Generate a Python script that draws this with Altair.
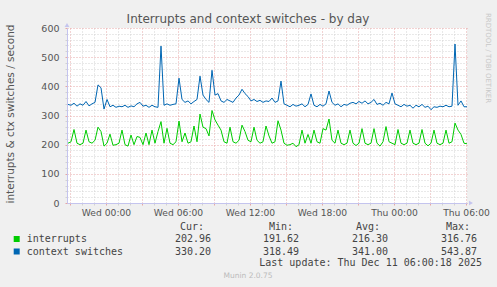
import altair as alt
import pandas as pd

# ---- data (15-minute samples) ----
interrupts = [
    205, 210, 252, 205, 200, 205, 250, 210, 205, 215,
    260, 245, 195, 205, 236, 198, 200, 205, 250, 200,
    195, 233, 200, 228, 225, 200, 240, 200, 250, 205,
    245, 279, 205, 256, 205, 200, 210, 281, 210, 240,
    205, 210, 264, 210, 305, 260, 255, 230, 317, 285,
    267, 250, 210, 205, 260, 210, 205, 215, 267, 245,
    215, 210, 260, 215, 205, 210, 264, 230, 205, 210,
    282, 250, 205, 198, 200, 205, 193, 200, 250, 205,
    235, 205, 250, 210, 205, 255, 250, 288, 215, 205,
    250, 205, 200, 205, 250, 205, 197, 205, 255, 205,
    200, 205, 255, 205, 195, 210, 262, 210, 205, 200,
    252, 205, 200, 205, 250, 205, 200, 205, 252, 205,
    196, 205, 250, 205, 200, 205, 250, 205, 210, 274,
    250, 235, 205, 203,
]
context_switches = [
    338, 335, 342, 332, 340, 335, 348, 333, 340, 345,
    405, 395, 322, 355, 330, 335, 328, 332, 330, 335,
    328, 333, 330, 340, 345, 332, 335, 328, 335, 330,
    328, 538, 335, 340, 335, 338, 340, 428, 355, 345,
    350, 340, 348, 355, 435, 370, 355, 345, 455, 370,
    375, 350, 345, 355, 350, 345, 360, 370, 390, 375,
    365, 350, 355, 348, 352, 345, 350, 348, 360, 345,
    350, 418, 340, 335, 330, 338, 332, 335, 340, 330,
    338, 374, 335, 330, 338, 332, 340, 384, 345, 335,
    340, 330, 338, 335, 342, 345, 340, 348, 342, 350,
    340, 345, 355, 338, 342, 335, 345, 340, 377, 340,
    335, 330, 338, 332, 335, 325, 335, 330, 338, 328,
    332, 320, 330, 328, 332, 330, 335, 330, 332, 545,
    335, 350, 330, 330,
]
n = len(interrupts)
# hours relative to Wed 00:00, one sample every 15 minutes
hours = [round(-3.1667 + 0.25 * i, 4) for i in range(n)]

series = ["interrupts", "context switches"]
cur_vals = ["202.96", "330.20"]
min_vals = ["191.62", "318.49"]
avg_vals = ["216.30", "341.00"]
max_vals = ["316.76", "543.87"]
x_ticks = list(range(-3, 31))
y_ticks = list(range(0, 601, 20))

df = pd.DataFrame({
    "h": hours + hours,
    "v": interrupts + context_switches,
    "s": [series[0]] * n + [series[1]] * n,
})

GREEN = "#00CC00"
BLUE = "#0066B3"
AXIS = "#c4c4ee"
MAJOR = "#e6a6a6"
MINOR = "#d2d2d2"
TXT = "#555555"

xlabel = ("datum.value % 6 === 0 && datum.value >= 0 ? "
          "((datum.value < 24 ? 'Wed ' : 'Thu ') + ((datum.value % 24) < 10 ? '0' : '') "
          "+ (datum.value % 24) + ':00') : ''")

xaxis = alt.Axis(
    values=x_ticks, title=None, labelExpr=xlabel, labelOverlap=False, labelFlush=False,
    grid=True,
    gridColor={"condition": {"test": "datum.value % 3 === 0", "value": MAJOR}, "value": MINOR},
    gridDash=[1, 2], gridWidth=1,
    tickColor={"condition": {"test": "datum.value % 3 === 0", "value": MAJOR}, "value": MINOR},
    tickSize=2, domainColor=AXIS, domainWidth=1,
    labelFont="DejaVu Sans", labelFontSize=9.2, labelColor=TXT, labelPadding=3,
)
yaxis = alt.Axis(
    values=y_ticks, title=None,
    labelExpr="datum.value % 100 === 0 ? datum.label : ''", labelOverlap=False,
    grid=True,
    gridColor={"condition": {"test": "datum.value % 100 === 0", "value": MAJOR}, "value": MINOR},
    gridDash=[1, 2], gridWidth=1,
    tickColor={"condition": {"test": "datum.value % 100 === 0", "value": MAJOR}, "value": MINOR},
    tickSize=2, domainColor=AXIS, domainWidth=1,
    labelFont="DejaVu Sans", labelFontSize=9.5, labelColor=TXT, labelPadding=6,
)

lines = alt.Chart(df).mark_line(strokeWidth=1).encode(
    x=alt.X("h:Q", scale=alt.Scale(domain=[-3.25, 30.0833], nice=False, zero=False), axis=xaxis),
    y=alt.Y("v:Q", scale=alt.Scale(domain=[0, 600], nice=False), axis=yaxis),
    color=alt.Color("s:N", scale=alt.Scale(domain=series, range=[GREEN, BLUE]), legend=None),
    detail="s:N",
)

one = pd.DataFrame({"a": [0]})


def txt(text, x, y, align="left", size=10, font="DejaVu Sans Mono", color="#444444", angle=0):
    kw = dict(text=text, align=align, baseline="middle", fontSize=size, font=font, color=color)
    if angle:
        kw["angle"] = angle
    return alt.Chart(one).mark_text(**kw).encode(x=alt.value(x), y=alt.value(y))


layers = [lines]
# axis arrows
layers.append(alt.Chart(one).mark_point(shape="triangle-up", filled=True, size=22, color=AXIS, opacity=1)
              .encode(x=alt.value(0), y=alt.value(-3)))
layers.append(alt.Chart(one).mark_point(shape="triangle-right", filled=True, size=22, color=AXIS, opacity=1)
              .encode(x=alt.value(404), y=alt.value(175)))

layers.append(txt("Interrupts and context switches - by day", 181, -9, align="center",
                  size=12, font="DejaVu Sans", color=TXT))
layers.append(txt("interrupts & ctx switches / second", -56, 86, align="center",
                  size=10.5, font="DejaVu Sans", color=TXT, angle=270))
layers.append(txt("RRDTOOL / TOBI OETIKER", 421, 30, align="center",
                  size=7, font="DejaVu Sans", color="#c8c8c8", angle=90))

# legend header
for label, xr in zip(["Cur:", "Min:", "Avg:", "Max:"], [137, 226, 313, 403]):
    layers.append(txt(label, xr, 199, align="right"))

row_y = [211, 223.5]
colors = [GREEN, BLUE]
for k in range(2):
    layers.append(alt.Chart(one).mark_square(size=36, color=colors[k], opacity=1)
                  .encode(x=alt.value(-50.3), y=alt.value(row_y[k])))
    layers.append(txt(series[k], -40.3, row_y[k]))
    for val, xr in zip([cur_vals[k], min_vals[k], avg_vals[k], max_vals[k]], [144, 232, 321, 410]):
        layers.append(txt(val, xr, row_y[k], align="right"))

layers.append(txt("Last update: Thu Dec 11 06:00:18 2025", 415, 235, align="right"))
layers.append(txt("Munin 2.0.75", 181, 248, align="center", size=7.5, font="DejaVu Sans", color="#bbbbbb"))

chart = alt.layer(*layers).properties(
    width=400, height=175,
    autosize=alt.AutoSizeParams(type="none"),
    padding={"left": 67, "top": 28, "right": 30, "bottom": 84},
    background="#F0F0F0",
).configure_view(fill="white", strokeWidth=0)

chart.save("out.html", embed_options={"renderer": "svg", "actions": False})
